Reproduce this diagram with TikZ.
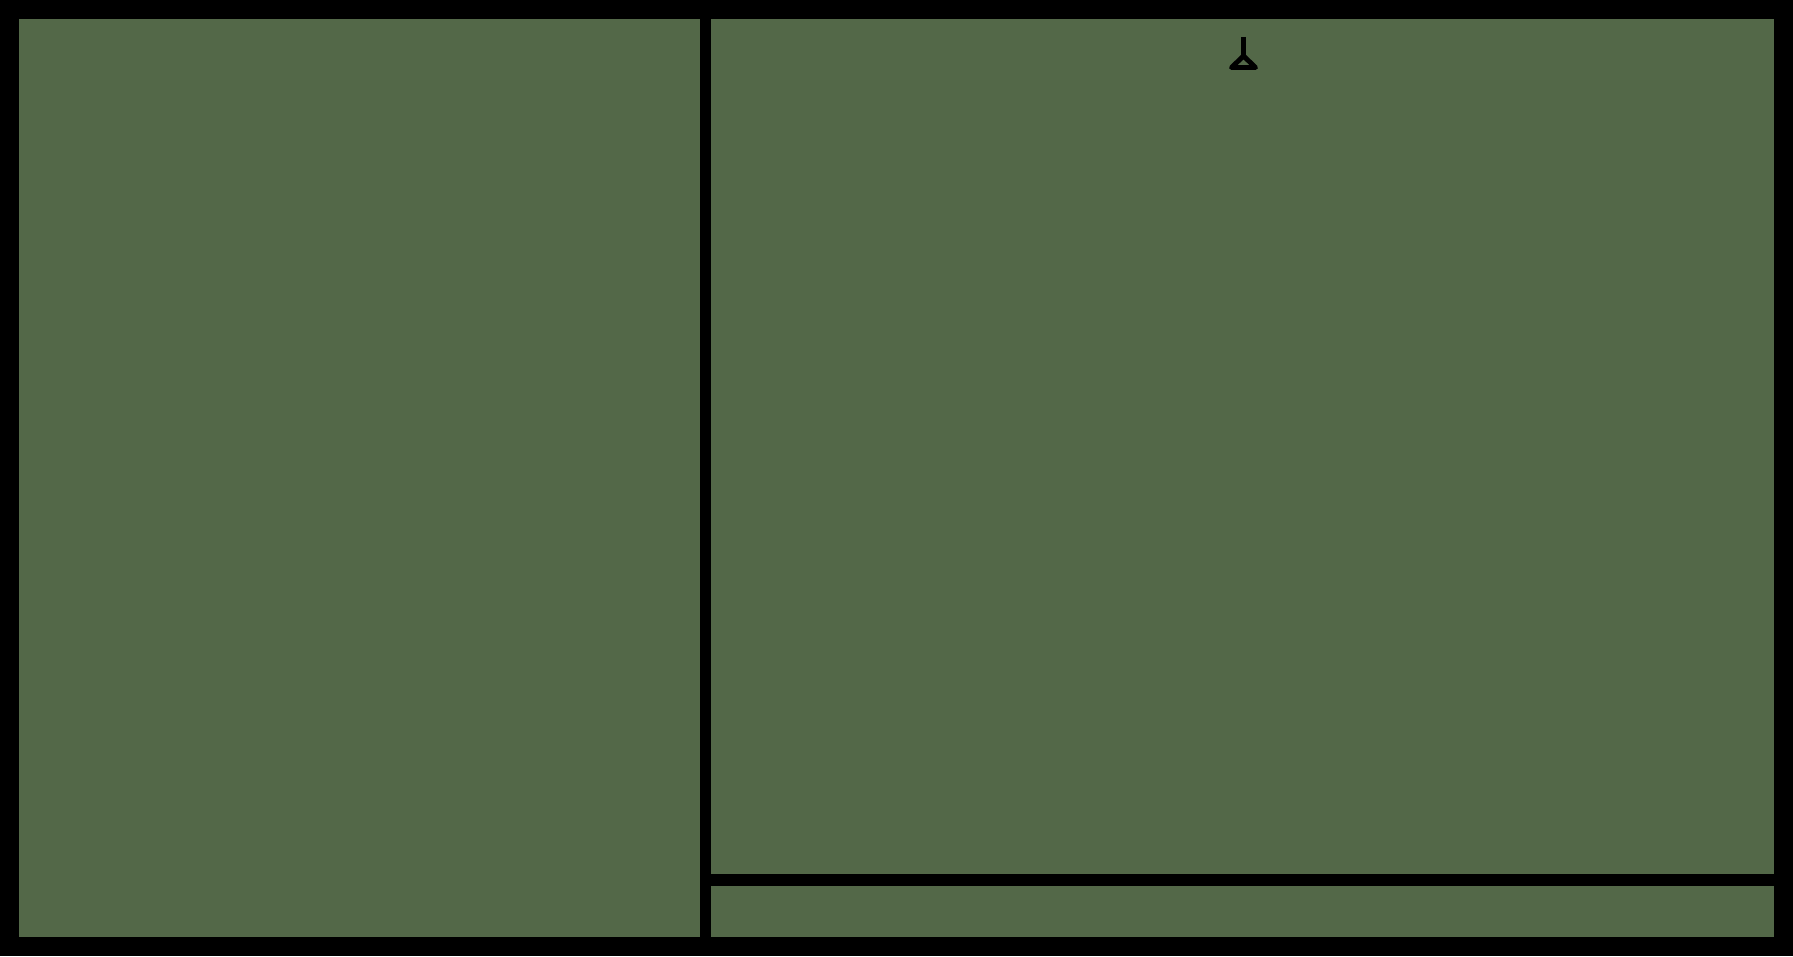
\documentclass[tikz,border=0pt]{standalone}
\usepackage{xcolor}
\usepackage{tikz}
\definecolor{panelc}{HTML}{536848}
\newcommand{\fillpanel}[4]{%
  \fill[panelc] (#1*0.02,#2*0.02) rectangle (#3*0.02,#4*0.02);
}
\begin{document}
\begin{tikzpicture}[scale=1]
  \useasboundingbox (0,0) rectangle (1793*0.02,956*0.02);
  \fill[black] (0,0) rectangle (1793*0.02,956*0.02);
  % panels, measured from the lower left corner
  \fillpanel{19}{19.5}{699.5}{937}
  \fillpanel{711}{82}{1774}{937}
  \fillpanel{711}{19.5}{1774}{70.5}
  % small mark on top
  \draw[black,line width=2.3pt] (1243.5*0.02,919*0.02) -- (1243.5*0.02,901*0.02);
  \draw[black,line width=2.8pt,line join=round] (1243.5*0.02,900*0.02)
    -- (1255.5*0.02,888.5*0.02) -- (1231.5*0.02,888.5*0.02) -- cycle;
\end{tikzpicture}
\end{document}
